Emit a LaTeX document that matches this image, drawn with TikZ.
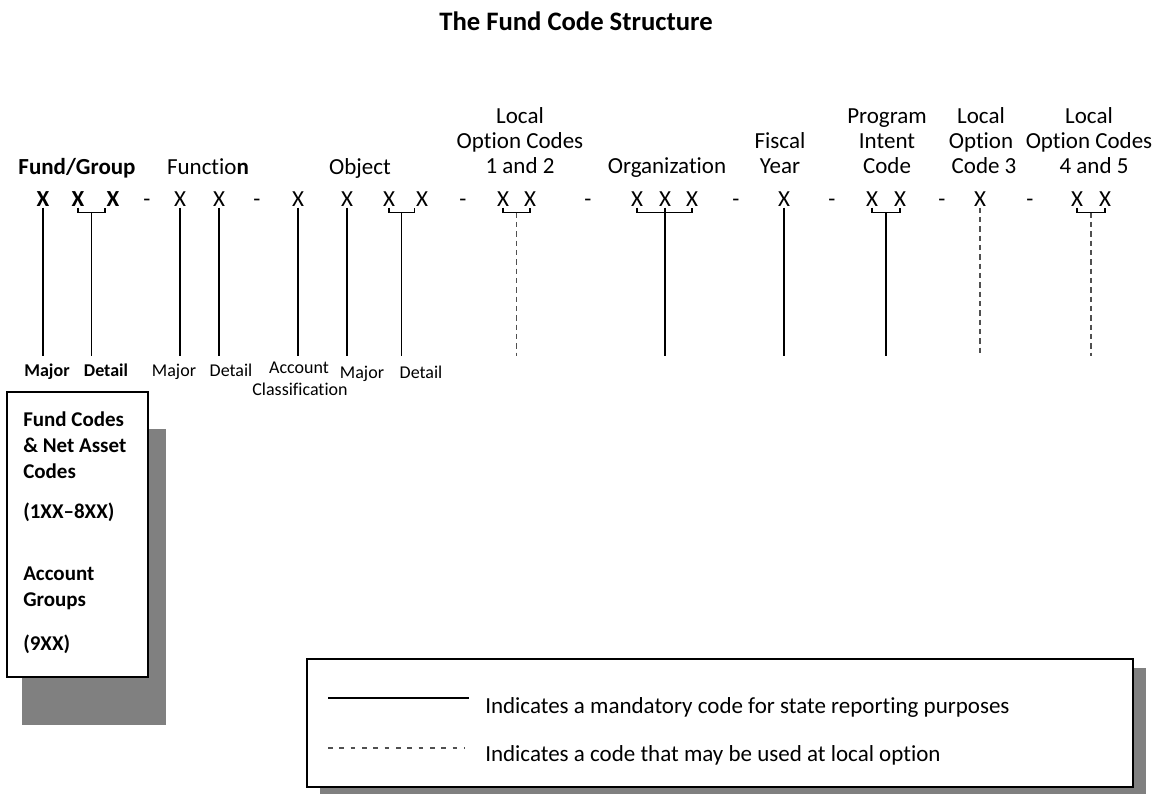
\documentclass[tikz,border=0pt]{standalone}
\usepackage{fontspec}
\setmainfont{Carlito}[Ligatures={TeX,NoCommon}]
\usetikzlibrary{calc}
\definecolor{shadowgray}{HTML}{808080}
\definecolor{dashgray}{HTML}{505050}
\tikzset{
  title/.style={font=\bfseries\fontsize{20}{24}\selectfont, anchor=base},
  head/.style={font=\fontsize{17.25}{20}\selectfont, anchor=base, inner sep=0pt},
  headb/.style={head, font=\bfseries\fontsize{17.25}{20}\selectfont},
  digit/.style={font=\fontsize{17.25}{20}\selectfont, anchor=base, inner sep=1pt},
  digitb/.style={digit, font=\bfseries\fontsize{17.25}{20}\selectfont},
  part/.style={font=\fontsize{13.5}{16}\selectfont, anchor=base, inner sep=0pt},
  partb/.style={part, font=\bfseries\fontsize{13.5}{16}\selectfont},
  mandatory/.style={line width=1.1pt},
  optional/.style={line width=0.9pt, dashgray, dash pattern=on 4pt off 3pt},
  note/.style={font=\fontsize{17.25}{20}\selectfont, anchor=base west, inner sep=0pt}
}
\begin{document}
\begin{tikzpicture}[x=0.75pt,y=-0.75pt]
  \useasboundingbox (0,0) rectangle (1163,793);
  \node[title] (title) at (576,30) {The Fund Code Structure};
  \path
    (77,174) node[headb] (fund) {Fund/Group}
    (208,174) node[head] (func) {Functio\textbf{n}}
    (360,174) node[head] (obj) {Object}
    (520,123) node[head] (loca1) {Local}
    (520,148) node[head] (loca2) {Option Codes}
    (520,173) node[head] (loca3) {1 and 2}
    (667,173) node[head] (org) {Organization}
    (780,148) node[head] (fy1) {Fiscal}
    (780,173) node[head] (fy2) {Year}
    (887,123) node[head] (pic1) {Program}
    (887,148) node[head] (pic2) {Intent}
    (887,173) node[head] (pic3) {Code}
    (981,123) node[head] (locb1) {Local}
    (981,148) node[head] (locb2) {Option}
    (984,173) node[head] (locb3) {Code 3}
    (1089,123) node[head] (locc1) {Local}
    (1089,148) node[head] (locc2) {Option Codes}
    (1094,173) node[head] (locc3) {4 and 5};
  \path
    (43,206) node[digitb] (x1) {X}
    (78,206) node[digitb] (x2) {X}
    (113,206) node[digitb] (x3) {X}
    (147,206) node[digit] (d1) {-}
    (180,206) node[digit] (x4) {X}
    (219,206) node[digit] (x5) {X}
    (257,206) node[digit] (d2) {-}
    (298,206) node[digit] (x6) {X}
    (347,206) node[digit] (x7) {X}
    (389,206) node[digit] (x8) {X}
    (422,206) node[digit] (x9) {X}
    (463,206) node[digit] (d3) {-}
    (503,206) node[digit] (x10) {X}
    (530,206) node[digit] (x11) {X}
    (588,206) node[digit] (d4) {-}
    (637,206) node[digit] (x12) {X}
    (665,206) node[digit] (x13) {X}
    (692,206) node[digit] (x14) {X}
    (736,206) node[digit] (d5) {-}
    (784,206) node[digit] (x15) {X}
    (832,206) node[digit] (d6) {-}
    (872,206) node[digit] (x16) {X}
    (900,206) node[digit] (x17) {X}
    (942,206) node[digit] (d7) {-}
    (980,206) node[digit] (x18) {X}
    (1030,206) node[digit] (d8) {-}
    (1077,206) node[digit] (x19) {X}
    (1105,206) node[digit] (x20) {X};
  \path
    (47,376) node[partb] (mj1) {Major}
    (106,376) node[partb] (dt1) {Detail}
    (174,376) node[part] (mj2) {Major}
    (231,376) node[part] (dt2) {Detail}
    (299,373) node[part] (acc) {Account}
    (300,395) node[part] (cls) {Classification}
    (362,378) node[part] (mj3) {Major}
    (421,378) node[part] (dt3) {Detail};
  \coordinate (foot) at (0,356);
  \coordinate (b1) at ($(x2.south)!.5!(x3.south west)+(0,5)$);
  \coordinate (b2) at ($(x8.south)!.5!(x9.south west)+(0,5)$);
  \coordinate (b3) at ($(x10.south)!.5!(x11.south)+(0,5)$);
  \coordinate (b4) at ($(x16.south)!.5!(x17.south)+(0,5)$);
  \coordinate (b5) at ($(x19.south)!.5!(x20.south)+(0,5)$);
  \begin{scope}[mandatory]
    \draw (x1.south) to (x1 |- foot);
    \draw (x2.south) -- ++(0,5) -| (x3.south west);
    \draw (b1) to (b1 |- foot);
    \draw (x4.south) to (x4 |- foot);
    \draw (x5.south) to (x5 |- foot);
    \draw (x6.south) to (x6 |- foot);
    \draw (x7.south) to (x7 |- foot);
    \draw (x8.south) -- ++(0,5) -| (x9.south west);
    \draw (b2) to (b2 |- foot);
    \draw (x10.south) -- ++(0,5) -| (x11.south);
    \draw (x12.south) -- ++(0,5) -| (x14.south);
    \draw (x13.south) to (x13 |- foot);
    \draw (x15.south) to (x15 |- foot);
    \draw (x16.south) -- ++(0,5) -| (x17.south);
    \draw (b4) to (b4 |- foot);
    \draw (x19.south) -- ++(0,5) -| (x20.south);
  \end{scope}
  \begin{scope}[optional]
    \draw (b3) to (b3 |- foot);
    \draw (x18.south) to (x18 |- foot);
    \draw (b5) to (b5 |- foot);
  \end{scope}
  \fill[shadowgray] (22,429) rectangle (166,725);
  \draw[mandatory, fill=white] (7,392) rectangle (148,677);
  \node[anchor=north west, inner sep=0pt, align=left,
        font=\bfseries\fontsize{15.75}{19.5}\selectfont] (fundbox) at (23,411)
    {Fund Codes\\\& Net Asset\\Codes\\[10.5pt](1XX--8XX)\\[27pt]Account\\Groups\\[14pt](9XX)};
  \fill[shadowgray] (320,668) rectangle (1146,795);
  \draw[mandatory, fill=white] (307,659) rectangle (1133,787);
  \node[note] (note1) at (485,713) {Indicates a mandatory code for state reporting purposes};
  \node[note] (note2) at (485,761) {Indicates a code that may be used at local option};
  \coordinate (key1) at (328,698);
  \coordinate (key2) at (328,748);
  \draw[line width=1.3pt, shorten >=12pt] (key1) -- (key1 -| note1.west);
  \draw[line width=0.8pt, dashgray, dash pattern=on 3.5pt off 5pt, shorten >=15pt] (key2) -- (key2 -| note2.west);
\end{tikzpicture}
\end{document}
